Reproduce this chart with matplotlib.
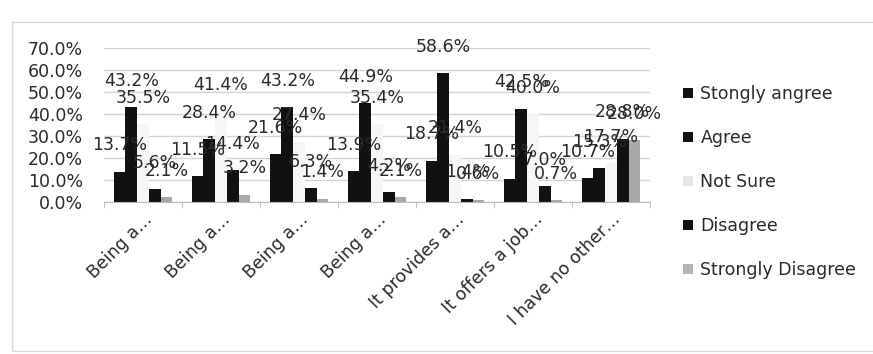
import matplotlib
matplotlib.use("Agg")
import matplotlib.pyplot as plt
from matplotlib.patches import Patch, Rectangle
import numpy as np

categories = ["Being a…", "Being a…", "Being a…", "Being a…",
              "It provides a…", "It offers a job…", "I have no other…"]
series_names = ["Stongly angree", "Agree", "Not Sure", "Disagree", "Strongly Disagree"]
strongly_agree = [13.7, 11.5, 21.6, 13.9, 18.7, 10.5, 10.7]
agree = [43.2, 28.4, 43.2, 44.9, 58.6, 42.5, 15.3]
not_sure = [35.5, 41.4, 27.4, 35.4, 21.4, 40.0, 17.7]
disagree = [5.6, 14.4, 6.3, 4.2, 1.4, 7.0, 28.8]
strongly_disagree = [2.1, 3.2, 1.4, 2.1, 0.6, 0.7, 28.0]
y_ticks = [0, 10, 20, 30, 40, 50, 60, 70]

series = [strongly_agree, agree, not_sure, disagree, strongly_disagree]
colors = ["#111111", "#111111", "#f6f6f6", "#111111", "#a8a8a8"]
legend_colors = ["#111111", "#111111", "#e6e6e6", "#111111", "#b5b5b5"]

plt.rcParams['font.family'] = ['DejaVu Sans']
FS = 12.5
TXT = '#2a2a2a'
W, H = 873, 354
fig = plt.figure(figsize=(W / 100, H / 100), dpi=100)
ax = fig.add_axes([104 / W, 1 - 201.7 / H, (650 - 104) / W, (201.7 - 48.3) / H])

x = np.arange(len(categories))
bw = 0.15
for i, (vals, c) in enumerate(zip(series, colors)):
    xs = x + (i - 2) * bw
    ax.bar(xs, vals, width=bw, color=c, edgecolor='none', zorder=2)
    for xi, v in zip(xs, vals):
        ax.annotate(f"{v:.1f}%", (xi, v), xytext=(0, 19), textcoords='offset points',
                    ha='center', va='center', fontsize=FS, color=TXT, zorder=3)

ax.set_xlim(-0.5, len(categories) - 0.5)
ax.set_ylim(0, 70)
ax.set_yticks(y_ticks)
ax.set_yticklabels([f"{v:.1f}%" for v in y_ticks], fontsize=FS, color=TXT)
ax.set_xticks(x)
ax.set_xticklabels(categories, rotation=45, ha='right', va='top',
                   rotation_mode='anchor', fontsize=FS, color=TXT)
ax.set_xticks(np.arange(-0.5, len(categories), 1), minor=True)
ax.tick_params(axis='x', which='major', length=0, pad=6)
ax.tick_params(axis='x', which='minor', length=4, color='#bbbbbb')
ax.tick_params(axis='y', length=0, pad=15)
ax.yaxis.grid(True, color='#d4d4d4', lw=1)
ax.set_axisbelow(True)
for s in ['left', 'right', 'top']:
    ax.spines[s].set_visible(False)
ax.spines['bottom'].set_color('#bbbbbb')

handles = [Patch(facecolor=c, edgecolor='none') for c in legend_colors]
fig.legend(handles, series_names, loc='upper left',
           bbox_to_anchor=(683 / W, 1 - 85 / H), frameon=False, fontsize=FS,
           labelspacing=1.5, handlelength=0.55, handleheight=0.55,
           handletextpad=0.45, borderaxespad=0, borderpad=0,
           labelcolor=TXT)

fig.patches.append(Rectangle((12 / W, 3 / H), 1.0, (351 - 22) / H,
                             transform=fig.transFigure, fill=False,
                             ec='#d9d9d9', lw=1))

fig.savefig("out.png", dpi=100)
